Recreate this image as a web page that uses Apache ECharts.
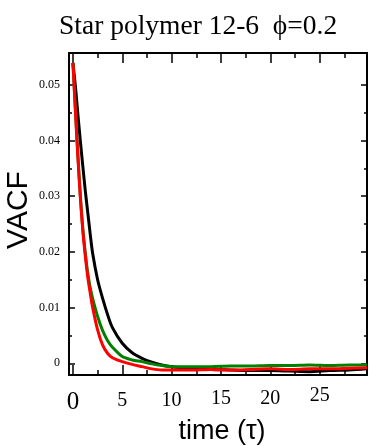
<!DOCTYPE html>
<html>
<head>
<meta charset="utf-8">
<style>
  html, body { margin: 0; padding: 0; background: #fff; }
  #chart { width: 369px; height: 446px; }
</style>
<script src="https://cdn.jsdelivr.net/npm/echarts@6/dist/echarts.min.js"></script>
</head>
<body>
<div id="chart"></div>
<script>
const times = [0, 0.25, 0.5, 0.75, 1, 1.25, 1.5, 1.75, 2, 2.5, 3, 3.5, 4, 5, 6, 7, 8, 9, 10, 12, 14, 16, 18, 20, 22, 24, 26, 28, 29.8];

const blackVacf = [0.0539, 0.0497, 0.0447, 0.0399, 0.0354, 0.0310, 0.0271, 0.0232, 0.0197, 0.0150, 0.0117, 0.0088, 0.0064, 0.0036, 0.0019, 0.0009, 0.0002, -0.0003, -0.0006,
  -0.0009, -0.0011, -0.0012, -0.0013, -0.0013, -0.0014, -0.0015, -0.0013, -0.0012, -0.0010];
const greenVacf = [0.0539, 0.0456, 0.0374, 0.0301, 0.0242, 0.0198, 0.0162, 0.0136, 0.0116, 0.0084, 0.0059, 0.0041, 0.0029, 0.0012, 0.0006, 0.0003, -0.0001, -0.0004, -0.0006,
  -0.0006, -0.0006, -0.0005, -0.0005, -0.0004, -0.0004, -0.0003, -0.0004, -0.0003, -0.0003];
const redVacf = [0.0539, 0.0452, 0.0370, 0.0298, 0.0238, 0.0193, 0.0155, 0.0126, 0.0100, 0.0060, 0.0033, 0.0018, 0.0010, 0.0003, -0.0002, -0.0006, -0.0010, -0.0012, -0.0012,
  -0.0012, -0.0011, -0.0012, -0.0011, -0.0010, -0.0011, -0.0010, -0.0010, -0.0009, -0.0008];

const xMajorTicks = [0, 5, 10, 15, 20, 25];
const xMinorTicks = [2.5, 7.5, 12.5, 17.5, 22.5, 27.5];
const yMajorTicks = [0, 0.01, 0.02, 0.03, 0.04, 0.05];
const yMinorTicks = [0.005, 0.015, 0.025, 0.035, 0.045];

const titleText = "Star polymer 12-6  \u03d5=0.2";
const xName = "time (\u03c4)";
const yName = "VACF";

const serif = "'Liberation Serif', 'DejaVu Serif', serif";
const sans = "'Liberation Sans', Arial, sans-serif";

const xRange = { min: -0.4, max: 29.8 };
const yRange = { min: -0.0021, max: 0.0557 };

const chart = echarts.init(document.getElementById("chart"), null, { renderer: "canvas" });

const pairs = (ys) => times.map((t, i) => [t, ys[i]]);

// one axis per tick size, so the frame gets ticks only where the original has them
function tickAxis(range, position, ticks, length, withLine) {
  return {
    type: "value",
    position,
    min: range.min,
    max: range.max,
    axisLine: { show: withLine, onZero: false, lineStyle: { color: "#000", width: 2 } },
    axisTick: { show: true, inside: true, length, customValues: ticks, lineStyle: { color: "#000", width: 1.5 } },
    splitLine: { show: false },
    axisLabel: { show: false },
  };
}

function xLabel(value) {
  if (value === 0) return "{z|0}";
  if (value >= 25) return "{h|" + value + "}";
  if (value >= 15) return "{m|" + value + "}";
  return "{n|" + value + "}";
}

const xMain = tickAxis(xRange, "bottom", xMajorTicks, 10, true);
xMain.axisLabel = {
  show: true,
  customValues: xMajorTicks,
  margin: 6,
  color: "#000",
  fontFamily: serif,
  formatter: xLabel,
  rich: {
    z: { fontFamily: serif, fontSize: 25, color: "#000", padding: [9, 0, 0, 0] },
    n: { fontFamily: serif, fontSize: 20, color: "#000", padding: [10, 0, 0, 0] },
    m: { fontFamily: serif, fontSize: 20, color: "#000", padding: [8, 0, 0, 0] },
    h: { fontFamily: serif, fontSize: 20, color: "#000", padding: [5, 0, 0, 0] },
  },
};
xMain.name = xName;
xMain.nameLocation = "middle";
xMain.nameGap = 43;
xMain.nameMoveOverlap = false;
xMain.nameTextStyle = { fontFamily: sans, fontSize: 27, color: "#000", padding: [0, 0, 0, 8] };

const yMain = tickAxis(yRange, "left", yMajorTicks, 6, true);
yMain.axisLabel = {
  show: true,
  customValues: yMajorTicks,
  margin: 9,
  color: "#000",
  fontFamily: serif,
  fontSize: 12,
  formatter: (v) => (v === 0 ? "0" : v.toFixed(2)),
};
yMain.name = yName;
yMain.nameLocation = "middle";
yMain.nameGap = 35;
yMain.nameMoveOverlap = false;
yMain.nameTextStyle = { fontFamily: sans, fontSize: 30, color: "#000", padding: [0, 0, 0, 8] };

chart.setOption({
  animation: false,
  title: {
    text: titleText,
    left: 54,
    top: 8,
    textStyle: { fontFamily: serif, fontWeight: "normal", fontSize: 27.5, color: "#000" },
  },
  grid: { left: 69, right: 2, top: 53, bottom: 71, outerBoundsMode: "none", containLabel: false },
  xAxis: [
    xMain,
    tickAxis(xRange, "bottom", xMinorTicks, 5, false),
    tickAxis(xRange, "top", xMajorTicks, 10, true),
    tickAxis(xRange, "top", xMinorTicks, 5, false),
  ],
  yAxis: [
    yMain,
    tickAxis(yRange, "left", yMinorTicks, 3, false),
    tickAxis(yRange, "right", yMajorTicks, 6, true),
    tickAxis(yRange, "right", yMinorTicks, 3, false),
  ],
  series: [
    {
      name: "black",
      type: "line",
      smooth: 0.3,
      showSymbol: false,
      lineStyle: { color: "#000", width: 3 },
      data: pairs(blackVacf),
    },
    {
      name: "green",
      type: "line",
      smooth: 0.3,
      showSymbol: false,
      lineStyle: { color: "#008000", width: 3 },
      data: pairs(greenVacf),
    },
    {
      name: "red",
      type: "line",
      smooth: 0.3,
      showSymbol: false,
      lineStyle: { color: "#ff0000", width: 3 },
      data: pairs(redVacf),
    },
  ],
});
</script>
</body>
</html>
